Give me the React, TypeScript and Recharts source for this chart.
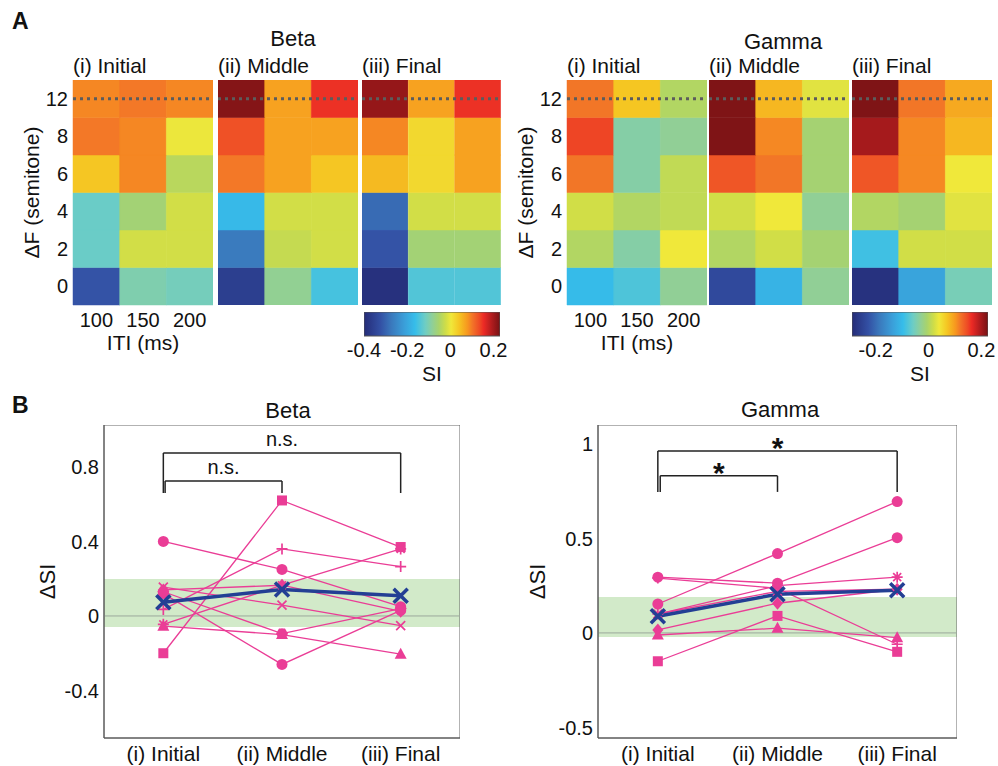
import React from "react";
import {
  BarChart,
  Bar,
  Cell,
  LineChart,
  Line,
  XAxis,
  YAxis,
  ReferenceLine,
  ReferenceArea,
} from "recharts";

const FONT = "'Liberation Sans', Arial, Helvetica, sans-serif";
const INK = "#111";
const PINK = "#ea3d96";
const NAVY = "#233f94";

// ---- panel A: SI maps (rows bottom -> top: 0,2,4,6,8,12 semitone; cols ITI 100/150/200) ----
const ITI = ["100", "150", "200"];
const DF_ROWS = ["0", "2", "4", "6", "8", "12"];
const ROW_TICKS = [0.5, 1.5, 2.5, 3.5, 4.5, 5.5];

const BETA_INITIAL = [
  [-0.32, -0.1, -0.11],
  [-0.12, -0.02, -0.02],
  [-0.12, -0.06, -0.02],
  [0.04, 0.09, -0.04],
  [0.1, 0.09, 0.0],
  [0.09, 0.1, 0.09],
];
const BETA_MIDDLE = [
  [-0.36, -0.08, -0.15],
  [-0.27, -0.03, -0.02],
  [-0.17, -0.02, -0.02],
  [0.1, 0.07, 0.04],
  [0.13, 0.07, 0.07],
  [0.22, 0.07, 0.15],
];
const BETA_FINAL = [
  [-0.39, -0.14, -0.14],
  [-0.32, -0.06, -0.06],
  [-0.29, -0.02, -0.02],
  [0.05, 0.02, 0.07],
  [0.09, 0.02, 0.07],
  [0.21, 0.07, 0.15],
];
const GAMMA_INITIAL = [
  [-0.1, -0.08, -0.03],
  [0.0, -0.04, 0.04],
  [0.02, 0.0, 0.01],
  [0.12, -0.04, 0.01],
  [0.15, -0.04, -0.03],
  [0.12, 0.07, 0.0],
];
const GAMMA_MIDDLE = [
  [-0.24, -0.11, -0.03],
  [0.0, 0.02, -0.01],
  [0.02, 0.04, -0.03],
  [0.14, 0.12, -0.01],
  [0.22, 0.11, -0.01],
  [0.22, 0.08, 0.03],
];
const GAMMA_FINAL = [
  [-0.28, -0.13, -0.05],
  [-0.09, 0.02, 0.02],
  [0.0, -0.01, 0.03],
  [0.14, 0.11, 0.04],
  [0.2, 0.11, 0.08],
  [0.22, 0.12, 0.09],
];

const BETA_CLIM: [number, number] = [-0.4, 0.23];
const GAMMA_CLIM: [number, number] = [-0.29, 0.225];
const BETA_CB_TICKS = [-0.4, -0.2, 0, 0.2];
const GAMMA_CB_TICKS = [-0.2, 0, 0.2];

// ---- panel B: ΔSI per subject ----
const STAGES = ["(i) Initial", "(ii) Middle", "(iii) Final"];

const BETA_S1 = [0.4, 0.25, 0.05];
const BETA_S2 = [-0.2, 0.62, 0.37];
const BETA_S3 = [0.035, 0.36, 0.265];
const BETA_S4 = [0.155, 0.058, -0.052];
const BETA_S5 = [-0.055, -0.1, -0.205];
const BETA_S6 = [-0.045, 0.165, 0.36];
const BETA_S7 = [0.14, 0.165, 0.025];
const BETA_S8 = [0.13, -0.095, 0.04];
const BETA_S9 = [0.12, -0.26, 0.03];
const BETA_MEAN = [0.074, 0.142, 0.108];

const GAMMA_S1 = [0.153, 0.42, 0.695];
const GAMMA_S2 = [0.295, 0.263, 0.504];
const GAMMA_S3 = [0.29, 0.236, -0.06];
const GAMMA_S4 = [0.1, 0.25, 0.295];
const GAMMA_S5 = [0.016, 0.157, 0.231];
const GAMMA_S6 = [0.1, 0.22, 0.231];
const GAMMA_S7 = [-0.15, 0.09, -0.1];
const GAMMA_S8 = [-0.011, 0.025, -0.025];
const GAMMA_MEAN = [0.088, 0.205, 0.226];

const BETA_BAND = [-0.059, 0.199];
const GAMMA_BAND = [-0.021, 0.19];

const BETA_BRACKETS = [
  { from: 1, to: 3, top: 0.875, foot: 0.66, text: "n.s." },
  { from: 1.015, to: 2, top: 0.725, foot: 0.66, text: "n.s." },
];
const GAMMA_BRACKETS = [
  { from: 1, to: 3, top: 0.963, foot: 0.746, text: "*" },
  { from: 1.02, to: 2, top: 0.831, foot: 0.746, text: "*" },
];

const BETA_SERIES = [
  { key: "s1", values: BETA_S1, shape: "circle" },
  { key: "s2", values: BETA_S2, shape: "square" },
  { key: "s3", values: BETA_S3, shape: "plus" },
  { key: "s4", values: BETA_S4, shape: "xmark" },
  { key: "s5", values: BETA_S5, shape: "triangle" },
  { key: "s6", values: BETA_S6, shape: "asterisk" },
  { key: "s7", values: BETA_S7, shape: "diamond" },
  { key: "s8", values: BETA_S8, shape: "hexagon" },
  { key: "s9", values: BETA_S9, shape: "circle" },
];
const GAMMA_SERIES = [
  { key: "s1", values: GAMMA_S1, shape: "circle" },
  { key: "s2", values: GAMMA_S2, shape: "circle" },
  { key: "s3", values: GAMMA_S3, shape: "plus" },
  { key: "s4", values: GAMMA_S4, shape: "asterisk" },
  { key: "s5", values: GAMMA_S5, shape: "diamond" },
  { key: "s6", values: GAMMA_S6, shape: "xmark" },
  { key: "s7", values: GAMMA_S7, shape: "square" },
  { key: "s8", values: GAMMA_S8, shape: "triangle" },
];

// muted jet, sampled from the printed colour bars
const CMAP: [number, string][] = [
  [0, "#252c78"],
  [0.12, "#3350a4"],
  [0.2, "#3a78bc"],
  [0.3, "#3aa0da"],
  [0.375, "#36bdea"],
  [0.45, "#6ecdc4"],
  [0.5, "#8ecf9a"],
  [0.55, "#a8d36c"],
  [0.6, "#cfdd48"],
  [0.64, "#f0e83a"],
  [0.7, "#f5c522"],
  [0.76, "#f7981f"],
  [0.8, "#f27228"],
  [0.85, "#ee4a25"],
  [0.88, "#ec2a25"],
  [0.94, "#b01c1e"],
  [1, "#761214"],
];

function hexToRgb(h: string) {
  return [1, 3, 5].map((i) => parseInt(h.slice(i, i + 2), 16));
}

function siColor(v: number, clim: [number, number]) {
  const t = Math.max(0, Math.min(1, (v - clim[0]) / (clim[1] - clim[0])));
  for (let i = 1; i < CMAP.length; i++) {
    const [t1, c1] = CMAP[i];
    if (t <= t1) {
      const [t0, c0] = CMAP[i - 1];
      const f = (t - t0) / (t1 - t0);
      const a = hexToRgb(c0);
      const b = hexToRgb(c1);
      return (
        "#" +
        a
          .map((x, k) => Math.round(x + (b[k] - x) * f).toString(16).padStart(2, "0"))
          .join("")
      );
    }
  }
  return CMAP[CMAP.length - 1][1];
}

function Txt({ x, y, size = 21, anchor = "middle", bold = false, children }: any) {
  const tx = anchor === "middle" ? "-50%" : anchor === "end" ? "-100%" : "0";
  return (
    <div
      style={{
        position: "absolute",
        left: x,
        top: y,
        transform: `translate(${tx},-50%)`,
        fontSize: size,
        lineHeight: 1,
        fontWeight: bold ? 700 : 400,
        whiteSpace: "nowrap",
        color: INK,
      }}
    >
      {children}
    </div>
  );
}

function Heatmap({ values, clim, plotLeft, plotWidth, withAxes }: any) {
  const data = ITI.map((iti) => {
    const row: Record<string, any> = { iti };
    DF_ROWS.forEach((_, r) => (row[`r${r}`] = 1));
    return row;
  });
  const axisW = withAxes ? 60 : 0;
  const axisH = withAxes ? 54 : 0;
  return (
    <div style={{ position: "absolute", left: plotLeft - axisW, top: 80 }}>
      <BarChart
        width={plotWidth + axisW}
        height={225 + axisH}
        data={data}
        margin={{ top: 0, right: 0, bottom: 0, left: 0 }}
        barCategoryGap={0}
        barGap={0}
      >
        <XAxis
          dataKey="iti"
          hide={!withAxes}
          height={axisH}
          tickLine={false}
          axisLine={false}
          tickSize={0}
          tickMargin={8}
          tick={{ fill: INK, fontSize: 20 }}
          label={{ value: "ITI (ms)", position: "insideBottom", offset: 9, fill: INK, fontSize: 21 }}
        />
        <YAxis
          type="number"
          domain={[0, 6]}
          ticks={ROW_TICKS}
          hide={!withAxes}
          width={axisW}
          tickLine={false}
          axisLine={false}
          tickSize={0}
          tickMargin={5}
          tick={{ fill: INK, fontSize: 20 }}
          tickFormatter={(v: number) => DF_ROWS[Math.floor(v)]}
          label={{
            value: "ΔF (semitone)",
            angle: -90,
            position: "insideLeft",
            offset: 19,
            fill: INK,
            fontSize: 21,
            style: { textAnchor: "middle" },
          }}
        />
        {DF_ROWS.map((_, r) => (
          <Bar key={r} dataKey={`r${r}`} stackId="cells" isAnimationActive={false}>
            {ITI.map((_, c) => {
              const fill = siColor(values[r][c], clim);
              return <Cell key={c} fill={fill} stroke={fill} strokeWidth={0.5} />;
            })}
          </Bar>
        ))}
        <ReferenceLine y={5.5} stroke="#5c5c5c" strokeWidth={3} strokeDasharray="3 4" />
      </BarChart>
    </div>
  );
}

function ColorBar({ id, clim, ticks, left }: any) {
  const data = [{ name: "SI", range: clim }];
  const pad = 22;
  return (
    <div style={{ position: "absolute", left: left - pad, top: 312 }}>
      <BarChart
        layout="vertical"
        width={136 + pad * 2}
        height={24 + 50}
        data={data}
        margin={{ top: 0, right: pad, bottom: 0, left: pad }}
        barCategoryGap={0}
      >
        <XAxis
          type="number"
          domain={clim}
          ticks={ticks}
          allowDataOverflow
          height={50}
          tickLine={false}
          axisLine={false}
          tickSize={0}
          tickMargin={7}
          interval={0}
          tick={{ fill: INK, fontSize: 20 }}
          label={{ value: "SI", position: "insideBottom", offset: 5, fill: INK, fontSize: 21 }}
        />
        <YAxis type="category" dataKey="name" hide />
        <Bar dataKey="range" fill={`url(#${id})`} stroke="#555" strokeWidth={1} isAnimationActive={false} />
      </BarChart>
    </div>
  );
}

function Marker({ cx, cy, shape }: any) {
  if (cx == null || cy == null) return null;
  const line = { stroke: PINK, strokeWidth: 1.7, fill: "none" };
  switch (shape) {
    case "circle":
      return <circle cx={cx} cy={cy} r={5.5} fill={PINK} />;
    case "hexagon": {
      const pts = [0, 1, 2, 3, 4, 5]
        .map((k) => {
          const a = (Math.PI / 3) * k;
          return `${cx + 6 * Math.cos(a)},${cy + 6 * Math.sin(a)}`;
        })
        .join(" ");
      return <polygon points={pts} fill={PINK} />;
    }
    case "square":
      return <rect x={cx - 5} y={cy - 5} width={10} height={10} fill={PINK} />;
    case "triangle":
      return <polygon points={`${cx},${cy - 6.5} ${cx + 6},${cy + 4.5} ${cx - 6},${cy + 4.5}`} fill={PINK} />;
    case "diamond":
      return <polygon points={`${cx},${cy - 6.5} ${cx + 5.5},${cy} ${cx},${cy + 6.5} ${cx - 5.5},${cy}`} fill={PINK} />;
    case "plus":
      return <path d={`M${cx - 5.5},${cy}H${cx + 5.5}M${cx},${cy - 5.5}V${cy + 5.5}`} {...line} />;
    case "xmark":
      return <path d={`M${cx - 4.5},${cy - 4.5}L${cx + 4.5},${cy + 4.5}M${cx - 4.5},${cy + 4.5}L${cx + 4.5},${cy - 4.5}`} {...line} />;
    case "asterisk":
      return (
        <path
          d={`M${cx - 5.5},${cy}H${cx + 5.5}M${cx},${cy - 5.5}V${cy + 5.5}M${cx - 4},${cy - 4}L${cx + 4},${cy + 4}M${cx - 4},${cy + 4}L${cx + 4},${cy - 4}`}
          {...line}
        />
      );
    case "mean":
      return (
        <path
          d={`M${cx - 7},${cy - 7}L${cx + 7},${cy + 7}M${cx - 7},${cy + 7}L${cx + 7},${cy - 7}`}
          stroke={NAVY}
          strokeWidth={3.5}
          fill="none"
        />
      );
    default:
      return null;
  }
}

function SIPlot({ series, mean, yDomain, yTicks, band, brackets, left, width, labelOffset, mark }: any) {
  const data = STAGES.map((_, i) => {
    const row: Record<string, number> = { stage: i + 1, mean: mean[i] };
    series.forEach((s: any) => (row[s.key] = s.values[i]));
    return row;
  });
  return (
    <div style={{ position: "absolute", left, top: 425 }}>
      <LineChart width={width} height={340} data={data} margin={{ top: 0, right: 0, bottom: 0, left: 0 }}>
        <ReferenceArea x1={0.5} x2={3.5} y1={band[0]} y2={band[1]} fill="#d2eac9" fillOpacity={1} stroke="none" />
        <ReferenceLine y={0} stroke="#9caa9c" strokeWidth={1} />
        <XAxis
          type="number"
          dataKey="stage"
          domain={[0.5, 3.5]}
          ticks={[1, 2, 3]}
          allowDataOverflow
          height={27}
          tickFormatter={(v: number) => STAGES[v - 1]}
          stroke="#555"
          tickLine={false}
          tickSize={0}
          tickMargin={8}
          interval={0}
          tick={{ fill: INK, fontSize: 21 }}
        />
        <YAxis
          type="number"
          domain={yDomain}
          ticks={yTicks}
          allowDataOverflow
          width={74}
          stroke="#555"
          tickLine={false}
          tickSize={0}
          tickMargin={5}
          interval={0}
          tick={{ fill: INK, fontSize: 20 }}
          label={{
            value: "ΔSI",
            angle: -90,
            position: "insideLeft",
            offset: labelOffset,
            fill: INK,
            fontSize: 22,
            style: { textAnchor: "middle" },
          }}
        />
        {brackets.map((b: any, i: number) => (
          <ReferenceLine
            key={`h${i}`}
            segment={[
              { x: b.from, y: b.top },
              { x: b.to, y: b.top },
            ]}
            stroke="#222"
            strokeWidth={1.5}
            label={{
              value: b.text,
              position: "top",
              offset: mark.offset,
              fill: INK,
              fontSize: mark.size,
              fontWeight: mark.weight,
            }}
          />
        ))}
        {brackets.map((b: any, i: number) => (
          <ReferenceLine
            key={`l${i}`}
            segment={[
              { x: b.from, y: b.top },
              { x: b.from, y: b.foot },
            ]}
            stroke="#222"
            strokeWidth={1.5}
          />
        ))}
        {brackets.map((b: any, i: number) => (
          <ReferenceLine
            key={`r${i}`}
            segment={[
              { x: b.to, y: b.top },
              { x: b.to, y: b.foot },
            ]}
            stroke="#222"
            strokeWidth={1.5}
          />
        ))}
        {series.map((s: any) => (
          <Line
            key={s.key}
            dataKey={s.key}
            stroke={PINK}
            strokeWidth={1.3}
            dot={(p: any) => <Marker key={`${s.key}-${p.index}`} cx={p.cx} cy={p.cy} shape={s.shape} />}
            activeDot={false}
            isAnimationActive={false}
          />
        ))}
        <Line
          dataKey="mean"
          stroke={NAVY}
          strokeWidth={3.5}
          dot={(p: any) => <Marker key={`m-${p.index}`} cx={p.cx} cy={p.cy} shape="mean" />}
          activeDot={false}
          isAnimationActive={false}
        />
        <ReferenceArea x1={0.5} x2={3.5} y1={yDomain[0]} y2={yDomain[1]} fill="none" stroke="#666" strokeWidth={1} />
      </LineChart>
    </div>
  );
}

export default function App() {
  return (
    <div
      style={{
        position: "absolute",
        left: 0,
        top: 0,
        width: 998,
        height: 766,
        background: "#fff",
        fontFamily: FONT,
        overflow: "hidden",
      }}
    >
      <svg width={0} height={0} style={{ position: "absolute" }}>
        <defs>
          {["cbBeta", "cbGamma"].map((id) => (
            <linearGradient key={id} id={id} x1="0" y1="0" x2="1" y2="0">
              {CMAP.map(([t, c]) => (
                <stop key={t} offset={t} stopColor={c} />
              ))}
            </linearGradient>
          ))}
        </defs>
      </svg>

      <Txt x={12} y={21} size={23} anchor="start" bold>
        A
      </Txt>
      <Txt x={293} y={39} size={22}>
        Beta
      </Txt>
      <Txt x={783} y={42} size={22}>
        Gamma
      </Txt>
      <Txt x={73} y={65} anchor="start">{STAGES[0]}</Txt>
      <Txt x={218} y={65} anchor="start">{STAGES[1]}</Txt>
      <Txt x={362} y={65} anchor="start">{STAGES[2]}</Txt>
      <Txt x={567} y={65} anchor="start">{STAGES[0]}</Txt>
      <Txt x={709} y={65} anchor="start">{STAGES[1]}</Txt>
      <Txt x={852} y={65} anchor="start">{STAGES[2]}</Txt>

      <Heatmap values={BETA_INITIAL} clim={BETA_CLIM} plotLeft={73} plotWidth={140} withAxes />
      <Heatmap values={BETA_MIDDLE} clim={BETA_CLIM} plotLeft={218} plotWidth={140} />
      <Heatmap values={BETA_FINAL} clim={BETA_CLIM} plotLeft={362} plotWidth={139} />
      <Heatmap values={GAMMA_INITIAL} clim={GAMMA_CLIM} plotLeft={567} plotWidth={140} withAxes />
      <Heatmap values={GAMMA_MIDDLE} clim={GAMMA_CLIM} plotLeft={709} plotWidth={140} />
      <Heatmap values={GAMMA_FINAL} clim={GAMMA_CLIM} plotLeft={852} plotWidth={140} />

      <ColorBar id="cbBeta" clim={BETA_CLIM} ticks={BETA_CB_TICKS} left={364} />
      <ColorBar id="cbGamma" clim={GAMMA_CLIM} ticks={GAMMA_CB_TICKS} left={852} />

      <Txt x={12} y={405} size={23} anchor="start" bold>
        B
      </Txt>
      <Txt x={288} y={411} size={22}>
        Beta
      </Txt>
      <Txt x={780} y={410} size={22}>
        Gamma
      </Txt>

      <SIPlot
        series={BETA_SERIES}
        mean={BETA_MEAN}
        yDomain={[-0.655, 1.025]}
        yTicks={[-0.4, 0, 0.4, 0.8]}
        band={BETA_BAND}
        brackets={BETA_BRACKETS}
        left={30}
        width={430}
        labelOffset={17}
        mark={{ size: 20, offset: 7, weight: 400 }}
      />
      <SIPlot
        series={GAMMA_SERIES}
        mean={GAMMA_MEAN}
        yDomain={[-0.556, 1.1]}
        yTicks={[-0.5, 0, 0.5, 1]}
        band={GAMMA_BAND}
        brackets={GAMMA_BRACKETS}
        left={524}
        width={433}
        labelOffset={13}
        mark={{ size: 30, offset: -7, weight: 700 }}
      />
    </div>
  );
}
